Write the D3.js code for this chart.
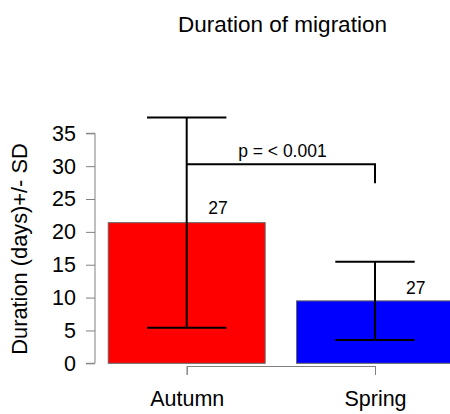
<!DOCTYPE html>
<html><head><meta charset="utf-8">
<script src="https://cdn.jsdelivr.net/npm/d3@7"></script>
<style>body{margin:0;background:#fff}svg{display:block}text{font-family:"Liberation Sans",Arial,sans-serif;fill:#000}</style>
</head><body><svg id="c" width="450" height="414"></svg>
<script>
const categories = ["Autumn", "Spring"];
const means = [21.4, 9.5];
const sds = [16.0, 5.95];
const counts = ["27", "27"];
const colors = ["#ff0000", "#0000ff"];
const yTicks = [0, 5, 10, 15, 20, 25, 30, 35];
const pText = "p = < 0.001";
const bracket = {x1: 0.7, x2: 1.9, y: 30.3, yEnd: 27.4};
const countPos = [{x: 0.9, y: 22.7}, {x: 2.16, y: 10.55}];
const pPos = {x: 1.31, y: 31.4};

const svg = d3.select("#c");
const x = d3.scaleLinear().domain([0.7, 1.9]).range([186.7, 375]);
const y = d3.scaleLinear().domain([0, 35]).range([363.3, 133.3]);
const barW = 1.0, space = 0.2;
const lefts = categories.map((c, i) => space + i * (barW + space));
const centers = lefts.map(l => l + barW / 2);

svg.selectAll("rect.bar").data(means).join("rect")
  .attr("x", (d, i) => x(lefts[i]))
  .attr("width", (d, i) => x(lefts[i] + barW) - x(lefts[i]))
  .attr("y", d => y(d))
  .attr("height", d => y(0) - y(d))
  .attr("fill", (d, i) => colors[i])
  .attr("stroke", "#666").attr("stroke-width", 1);

const capHalf = 0.253;
means.forEach((m, i) => {
  const g = svg.append("g").attr("stroke", "#000").attr("stroke-width", 2).attr("fill", "none");
  const cx = x(centers[i]);
  g.append("line").attr("x1", cx).attr("x2", cx).attr("y1", y(m + sds[i])).attr("y2", y(m - sds[i]));
  [m + sds[i], m - sds[i]].forEach(v => {
    g.append("line").attr("x1", x(centers[i] - capHalf)).attr("x2", x(centers[i] + capHalf))
      .attr("y1", y(v)).attr("y2", y(v));
  });
});

svg.append("path")
  .attr("d", `M${x(bracket.x1)},${y(bracket.y)}H${x(bracket.x2)}V${y(bracket.yEnd)}`)
  .attr("stroke", "#000").attr("stroke-width", 2).attr("fill", "none");
svg.append("text").attr("x", x(pPos.x)).attr("y", y(pPos.y))
  .attr("text-anchor", "middle").attr("font-size", 17.5).text(pText);

counts.forEach((c, i) => {
  svg.append("text").attr("x", x(countPos[i].x)).attr("y", y(countPos[i].y))
    .attr("text-anchor", "middle").attr("font-size", 17.5).text(c);
});

const yAxis = d3.axisLeft(y).tickValues(yTicks).tickSize(9).tickPadding(10);
const ga = svg.append("g").attr("transform", "translate(95,0)").call(yAxis);
ga.select(".domain").attr("stroke", "#808080").attr("d", `M-9,${y(35)}H0V${y(0)}H-9`);
ga.selectAll(".tick line").attr("stroke", "#808080");
ga.selectAll(".tick text").attr("font-size", 21.5).attr("font-family", "Liberation Sans, Arial, sans-serif").attr("fill", "#000");

const xAxis = d3.axisBottom(x).tickValues(centers).tickFormat((d, i) => categories[i]).tickSize(9).tickPadding(16);
const gx = svg.append("g").attr("transform", "translate(0,366)").call(xAxis);
gx.select(".domain").attr("stroke", "#808080");
gx.selectAll(".tick line").attr("stroke", "#808080");
gx.selectAll(".tick text").attr("font-size", 21.5).attr("font-family", "Liberation Sans, Arial, sans-serif").attr("fill", "#000");

svg.append("text").attr("x", 282.5).attr("y", 32).attr("text-anchor", "middle").attr("font-size", 22.5).text("Duration of migration");
svg.append("text").attr("transform", "translate(27,249) rotate(-90)").attr("text-anchor", "middle").attr("font-size", 21.8).text("Duration (days)+/- SD");
</script></body></html>
